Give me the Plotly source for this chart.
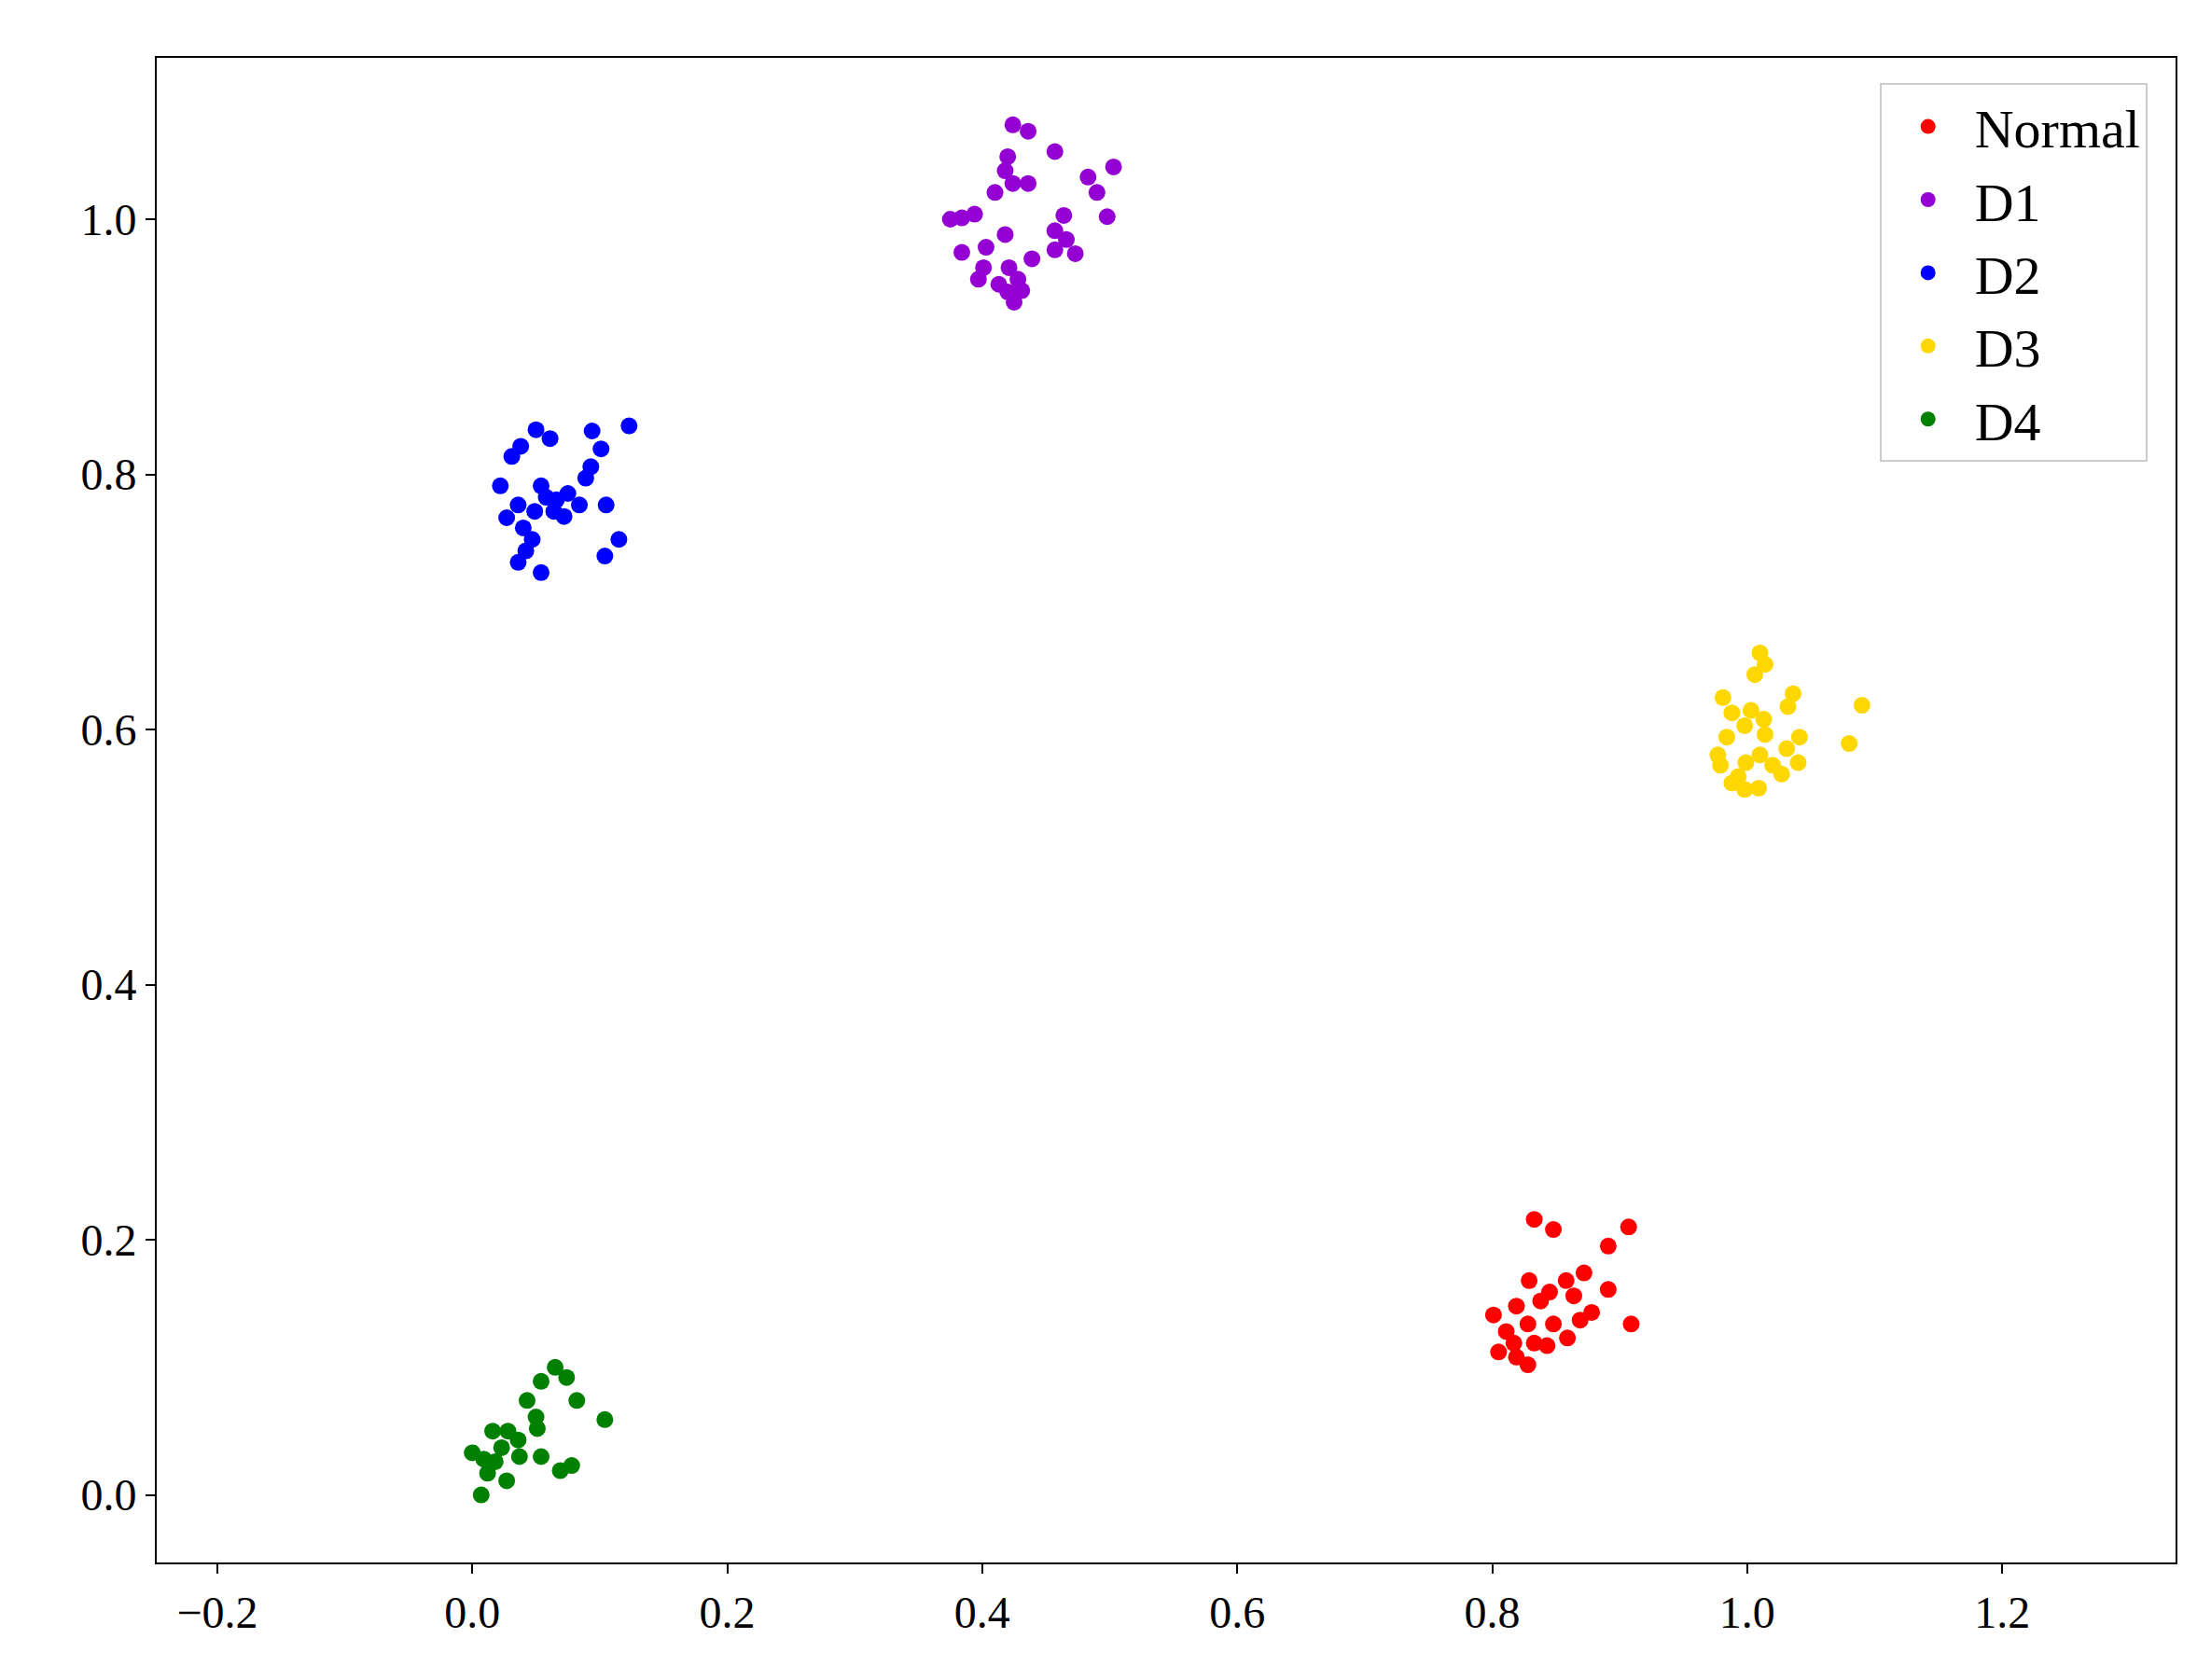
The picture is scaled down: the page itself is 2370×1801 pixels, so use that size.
import plotly.graph_objects as go

normal_x = [0.833, 0.848, 0.907, 0.891, 0.829, 0.858, 0.872, 0.845, 0.864, 0.891, 0.801, 0.819, 0.838,
            0.878, 0.909, 0.848, 0.828, 0.811, 0.869, 0.859, 0.805, 0.819, 0.828, 0.843, 0.833, 0.817]
normal_y = [0.216, 0.208, 0.210, 0.195, 0.168, 0.168, 0.174, 0.159, 0.156, 0.161, 0.141, 0.148, 0.152,
            0.143, 0.134, 0.134, 0.134, 0.128, 0.137, 0.123, 0.112, 0.108, 0.102, 0.117, 0.119, 0.119]

d1_x = [0.424, 0.436, 0.420, 0.457, 0.503, 0.483, 0.418, 0.436, 0.424, 0.410, 0.490, 0.394, 0.375, 0.384,
        0.498, 0.464, 0.457, 0.418, 0.403, 0.466, 0.384, 0.473, 0.457, 0.439, 0.401, 0.421, 0.397, 0.413,
        0.428, 0.420, 0.431, 0.425]
d1_y = [1.074, 1.069, 1.049, 1.053, 1.041, 1.033, 1.038, 1.028, 1.028, 1.021, 1.021, 1.004, 1.000, 1.001,
        1.002, 1.003, 0.991, 0.988, 0.978, 0.984, 0.974, 0.973, 0.976, 0.969, 0.962, 0.962, 0.953, 0.949,
        0.953, 0.943, 0.944, 0.935]

d2_x = [0.123, 0.050, 0.061, 0.094, 0.038, 0.101, 0.031, 0.093, 0.089, 0.022, 0.054, 0.058, 0.075, 0.066,
        0.084, 0.036, 0.105, 0.049, 0.072, 0.027, 0.064, 0.040, 0.047, 0.115, 0.042, 0.104, 0.036, 0.054]
d2_y = [0.838, 0.835, 0.828, 0.834, 0.822, 0.820, 0.814, 0.806, 0.797, 0.791, 0.791, 0.782, 0.785, 0.780,
        0.776, 0.776, 0.776, 0.771, 0.767, 0.766, 0.771, 0.758, 0.749, 0.749, 0.740, 0.736, 0.731, 0.723]

d3_x = [1.010, 1.014, 1.006, 1.036, 0.981, 1.090, 1.032, 1.003, 0.988, 1.013, 0.998, 0.984, 1.041, 1.014,
        1.080, 1.031, 0.977, 1.010, 0.999, 1.040, 0.979, 1.020, 0.993, 1.027, 0.988, 0.998, 1.009]
d3_y = [0.660, 0.651, 0.643, 0.628, 0.625, 0.619, 0.618, 0.615, 0.613, 0.608, 0.603, 0.594, 0.594, 0.596,
        0.589, 0.585, 0.580, 0.580, 0.574, 0.574, 0.572, 0.572, 0.563, 0.565, 0.558, 0.553, 0.554]

d4_x = [0.065, 0.074, 0.054, 0.082, 0.043, 0.104, 0.050, 0.016, 0.028, 0.051, 0.036, 0.023, 0.000, 0.009,
        0.054, 0.037, 0.018, 0.078, 0.069, 0.027, 0.007, 0.012]
d4_y = [0.100, 0.092, 0.089, 0.074, 0.074, 0.059, 0.061, 0.050, 0.050, 0.052, 0.043, 0.037, 0.033, 0.028,
        0.030, 0.030, 0.026, 0.023, 0.019, 0.011, 0.000, 0.017]

series = [
    ("Normal", normal_x, normal_y, "#ff0000"),
    ("D1", d1_x, d1_y, "#9400d3"),
    ("D2", d2_x, d2_y, "#0000ff"),
    ("D3", d3_x, d3_y, "#ffd700"),
    ("D4", d4_x, d4_y, "#008000"),
]

fig = go.Figure()
for name, xs, ys, col in series:
    fig.add_trace(go.Scatter(x=xs, y=ys, mode="markers", name=name,
                             marker=dict(color=col, size=18, line=dict(width=0))))

axis_style = dict(showline=True, linecolor="black", linewidth=2, mirror=True, showgrid=False,
                  zeroline=False, ticks="outside", ticklen=10, tickwidth=2, tickcolor="black",
                  tickformat=".1f", dtick=0.2)
fig.update_xaxes(range=[-0.2475, 1.336], **axis_style)
fig.update_yaxes(range=[-0.053, 1.1265], **axis_style)

fig.update_layout(
    width=2370, height=1801,
    margin=dict(l=160, r=46, t=54, b=134),
    plot_bgcolor="white", paper_bgcolor="white",
    font=dict(family="Liberation Serif", size=48, color="black"),
    legend=dict(x=0.986, y=0.983, xanchor="right", yanchor="top",
                bordercolor="#cccccc", borderwidth=2, font=dict(size=58),
                itemwidth=90, tracegroupgap=16),
)
fig.write_html("out.html")
